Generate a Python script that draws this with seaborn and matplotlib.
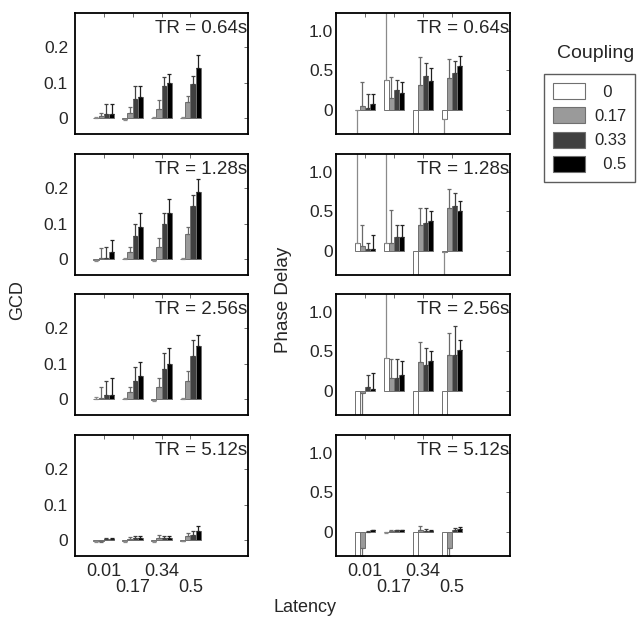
import numpy as np
import pandas as pd
import matplotlib
matplotlib.use("Agg")
import matplotlib.pyplot as plt
import matplotlib.patches as mpatches
import matplotlib.transforms as mtransforms
import seaborn as sns

sns.set_style("white")
plt.rcParams['font.family'] = ['Liberation Sans', 'DejaVu Sans']

latencies = ["0.01", "0.17", "0.34", "0.5"]
couplings = ["0", "0.17", "0.33", "0.5"]
tr_labels = ["TR = 0.64s", "TR = 1.28s", "TR = 2.56s", "TR = 5.12s"]

# values[latency][coupling]
gcd_064 = [[0.0, 0.005, 0.01, 0.01], [-0.002, 0.015, 0.055, 0.06], [0.0, 0.025, 0.09, 0.10], [0.0, 0.045, 0.095, 0.14]]
gcd_064_err = [[0.003, 0.01, 0.03, 0.03], [0.003, 0.015, 0.035, 0.03], [0.003, 0.025, 0.025, 0.025], [0.003, 0.018, 0.023, 0.038]]
gcd_128 = [[-0.002, 0.003, 0.003, 0.02], [0.0, 0.02, 0.065, 0.09], [-0.002, 0.035, 0.10, 0.13], [0.0, 0.07, 0.15, 0.19]]
gcd_128_err = [[0.003, 0.027, 0.032, 0.035], [0.003, 0.015, 0.035, 0.04], [0.003, 0.025, 0.03, 0.04], [0.003, 0.02, 0.03, 0.035]]
gcd_256 = [[0.0, 0.003, 0.01, 0.01], [0.0, 0.02, 0.05, 0.065], [-0.002, 0.035, 0.085, 0.10], [0.0, 0.05, 0.12, 0.15]]
gcd_256_err = [[0.005, 0.032, 0.04, 0.05], [0.003, 0.015, 0.04, 0.04], [0.003, 0.025, 0.045, 0.045], [0.003, 0.03, 0.045, 0.03]]
gcd_512 = [[-0.003, -0.003, 0.002, 0.003], [-0.003, 0.003, 0.005, 0.005], [-0.003, 0.005, 0.005, 0.005], [-0.002, 0.01, 0.015, 0.025]]
gcd_512_err = [[0.002, 0.002, 0.005, 0.004], [0.002, 0.005, 0.005, 0.005], [0.002, 0.01, 0.007, 0.005], [0.002, 0.01, 0.01, 0.015]]

pd_064 = [[-0.005, 0.05, 0.03, 0.08], [0.38, 0.15, 0.25, 0.22], [-0.8, 0.32, 0.43, 0.37], [-0.12, 0.40, 0.47, 0.56]]
pd_064_err = [[0.8, 0.30, 0.17, 0.12], [1.5, 0.27, 0.13, 0.14], [0.5, 0.35, 0.17, 0.16], [0.5, 0.25, 0.15, 0.12]]
pd_128 = [[0.10, 0.06, 0.02, 0.03], [0.10, 0.10, 0.18, 0.18], [-0.8, 0.33, 0.36, 0.38], [-0.01, 0.55, 0.57, 0.50]]
pd_128_err = [[1.5, 0.27, 0.08, 0.17], [1.5, 0.42, 0.15, 0.15], [0.5, 0.22, 0.19, 0.12], [0.8, 0.23, 0.16, 0.13]]
pd_256 = [[-0.8, -0.02, 0.05, 0.03], [0.42, 0.17, 0.17, 0.20], [-0.8, 0.37, 0.33, 0.38], [-0.8, 0.46, 0.46, 0.52]]
pd_256_err = [[0.3, 0.8, 0.15, 0.20], [1.5, 0.23, 0.23, 0.18], [0.3, 0.25, 0.21, 0.12], [0.3, 0.28, 0.36, 0.13]]
pd_512 = [[-0.8, -0.20, 0.0, 0.02], [-0.005, 0.01, 0.02, 0.02], [-0.8, 0.02, 0.01, 0.01], [-0.8, -0.20, 0.03, 0.04]]
pd_512_err = [[0.3, 0.10, 0.01, 0.01], [0.01, 0.01, 0.01, 0.01], [0.3, 0.05, 0.03, 0.02], [0.3, 0.10, 0.02, 0.02]]

gcd_panels = [(gcd_064, gcd_064_err), (gcd_128, gcd_128_err), (gcd_256, gcd_256_err), (gcd_512, gcd_512_err)]
pd_panels = [(pd_064, pd_064_err), (pd_128, pd_128_err), (pd_256, pd_256_err), (pd_512, pd_512_err)]

bar_colors = ["#ffffff", "#9a9a9a", "#404040", "#000000"]
err_colors = ["#8a8a8a", "#6a6a6a", "#404040", "#202020"]

W, H = 637, 619
fig = plt.figure(figsize=(W / 100, H / 100), dpi=100)

col_x = [(75, 248), (336, 510)]
row_top = [13, 154, 294, 435]
row_h = 121


def draw_panel(ax, vals, errs, ylim, yticks, yticklabels, tr, bottom, ypad):
    rows = []
    for i, lat in enumerate(latencies):
        for j, cp in enumerate(couplings):
            rows.append({"latency": lat, "coupling": cp, "value": vals[i][j]})
    df = pd.DataFrame(rows)
    sns.barplot(data=df, x="latency", y="value", hue="coupling", order=latencies,
                hue_order=couplings, palette=bar_colors, errorbar=None, width=0.72,
                edgecolor="#707070", linewidth=0.7, legend=False, ax=ax)
    bar_conts = list(ax.containers)
    for j, cont in enumerate(bar_conts):
        for i, bar in enumerate(cont):
            v = vals[i][j]
            e = errs[i][j]
            xc = bar.get_x() + bar.get_width() / 2
            lo, hi = (e, 0) if v < 0 else (0, e)
            ax.errorbar([xc], [v], yerr=[[lo], [hi]], fmt="none", ecolor=err_colors[j],
                        elinewidth=0.9, capsize=1.5, capthick=0.9)
    ax.set_xlim(-1, 5)
    ax.set_ylim(*ylim)
    ax.set_yticks(yticks)
    ax.set_yticklabels(yticklabels)
    ax.set_xticks(range(4))
    if bottom:
        ax.set_xticklabels(latencies)
    else:
        ax.set_xticklabels([])
    ax.set_xlabel("")
    ax.set_ylabel("")
    ax.tick_params(direction="in", top=True, right=True, length=3, width=0.6,
                   labelsize=12.5, color="#555555")
    ax.tick_params(axis="y", pad=ypad)
    ax.tick_params(axis="x", pad=5, labelsize=13)
    if bottom:
        shift = mtransforms.ScaledTranslation(0, -16 / 100, fig.dpi_scale_trans)
        for k, lab in enumerate(ax.get_xticklabels()):
            if k % 2 == 1:
                lab.set_transform(lab.get_transform() + shift)
    for s in ax.spines.values():
        s.set_color("black")
        s.set_linewidth(1.3)
    ax.text(0.995, 1 - 20 / row_h, tr, transform=ax.transAxes, ha="right",
            va="baseline", fontsize=13.5)


for r in range(4):
    for c in range(2):
        x0, x1 = col_x[c]
        ax = fig.add_axes([x0 / W, 1 - (row_top[r] + row_h) / H, (x1 - x0) / W, row_h / H])
        if c == 0:
            vals, errs = gcd_panels[r]
            draw_panel(ax, vals, errs, (-0.045, 0.296), [0, 0.1, 0.2], ["0", "0.1", "0.2"],
                       tr_labels[r], r == 3, 5)
        else:
            vals, errs = pd_panels[r]
            draw_panel(ax, vals, errs, (-0.305, 1.228), [0, 0.5, 1.0], ["0", "0.5", "1.0"],
                       tr_labels[r], r == 3, 2)

fig.text(18 / W, 1 - 300 / H, "GCD", rotation=90, ha="center", va="center", fontsize=13)
fig.text(283 / W, 1 - 300 / H, "Phase Delay", rotation=90, ha="center", va="center", fontsize=13.5)
fig.text(305 / W, 1 - 607 / H, "Latency", ha="center", va="center", fontsize=13)

fig.text(596 / W, 1 - 53 / H, "Coupling", ha="center", va="center", fontsize=14)
handles = [mpatches.Patch(facecolor=bar_colors[k], edgecolor="#707070", linewidth=0.8)
           for k in range(4)]
leg = fig.legend(handles, ["  0", "0.17", "0.33", "  0.5"], loc="upper left",
                 bbox_to_anchor=(544 / W, 1 - 74 / H), frameon=True, fancybox=False,
                 edgecolor="#333333", fontsize=12, handlelength=1.9, handleheight=1.1,
                 labelspacing=0.45, borderpad=0.55, handletextpad=0.55, borderaxespad=0)
leg.get_frame().set_linewidth(1.0)

fig.savefig("out.png", dpi=100)
